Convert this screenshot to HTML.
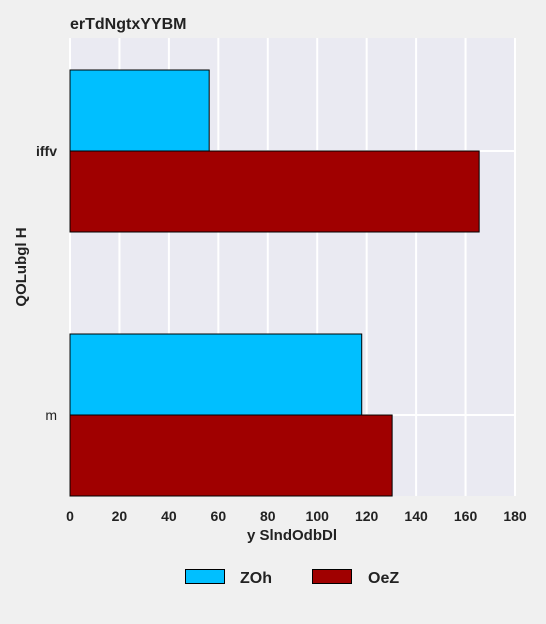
<!DOCTYPE html>
<html><head><meta charset="utf-8"><style>
body{margin:0;background:#f0f0f0;}
svg{display:block;font-family:"Liberation Sans",sans-serif;font-weight:bold;}
</style></head><body>
<svg id="chart" width="546" height="624">
<rect x="70" y="38" width="445" height="458" fill="#eaeaf2"/>
<g id="grid"></g><g id="bars"></g><g id="xt"></g><g id="yt"></g>
<text x="70" y="29" font-size="16" fill="#222">erTdNgtxYYBM</text>
<text x="292" y="540" font-size="15" fill="#222" text-anchor="middle">y SlndOdbDl</text>
<text transform="translate(26,267) rotate(-90)" font-size="15" fill="#222" text-anchor="middle">QOLubgl H</text>
<g>
<rect x="185.5" y="569.5" width="39" height="14" fill="#00bfff" stroke="#000"/>
<text x="240" y="583" font-size="16" fill="#222">ZOh</text>
<rect x="312.5" y="569.5" width="39" height="14" fill="#a00000" stroke="#000"/>
<text x="368" y="583" font-size="16" fill="#222">OeZ</text>
</g>
</svg>
<script>
const categories=["iffv","m"];
const seriesZOh=[56.3,118];
const seriesOeZ=[165.5,130.3];
const xTicks=[0,20,40,60,80,100,120,140,160,180];
const NS="http://www.w3.org/2000/svg";
const X0=70,X1=515,Y0=38,Y1=496;
function xs(v){return X0+(v-180*0)/180*(X1-X0);}
const band=264;
function yc(i){return 151+i*band;}
function mk(tag,attrs,parent){const e=document.createElementNS(NS,tag);for(const k in attrs)e.setAttribute(k,attrs[k]);document.getElementById(parent).appendChild(e);return e;}
xTicks.forEach(t=>{
 const l=mk('line',{x1:xs(t),x2:xs(t),y1:Y0,y2:Y1,stroke:'#fff','stroke-width':2},'grid');
 
 
 const tx=mk('text',{x:xs(t),y:521,'font-size':14,fill:'#222','text-anchor':'middle'},'xt');
 tx.textContent=t;
 
 
});
categories.forEach((c,i)=>{
 const g=mk('line',{x1:X0,x2:X1,y1:yc(i),y2:yc(i),stroke:'#fff','stroke-width':2},'grid');
 
 
 const h=81;
 const a=mk('rect',{x:xs(0),y:yc(i)-h,width:xs(seriesZOh[i])-xs(0),height:h,fill:'#00bfff',stroke:'#000','stroke-width':1},'bars');
 
 
 const b=mk('rect',{x:xs(0),y:yc(i),width:xs(seriesOeZ[i])-xs(0),height:h,fill:'#a00000',stroke:'#000','stroke-width':1},'bars');
 
 
 const t=mk('text',{x:57,y:yc(i)+5,'font-size':14,fill:'#222','text-anchor':'end','font-weight':i==1?'normal':'bold'},'yt');
 t.textContent=c;
 
 
});
</script>
</body></html>
